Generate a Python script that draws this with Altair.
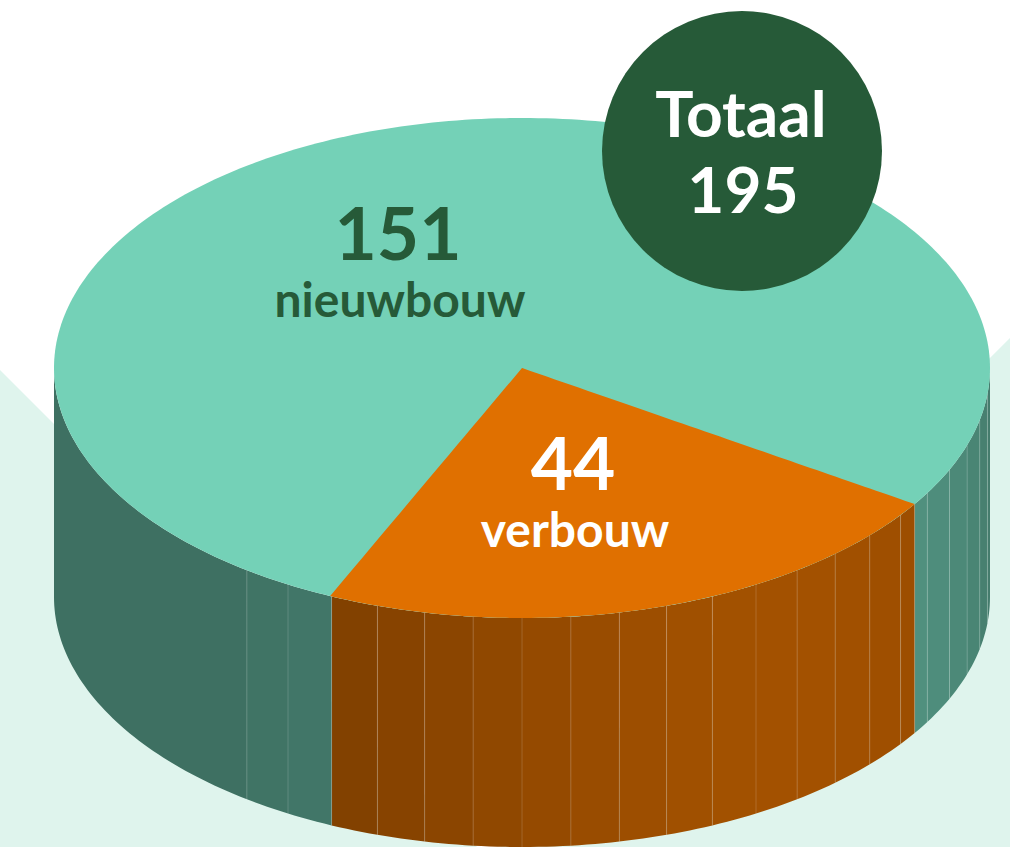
import math
import numpy as np
import pandas as pd
import altair as alt

# ---------------- data ----------------
categories = ["nieuwbouw", "verbouw"]
values = [151, 44]
top_colors = ["#74D1B7", "#E07000"]
label_colors = ["#265A38", "#FFFFFF"]
total_word = "Totaal"

# ---------------- layout (pixels) ----------------
W, H = 1010, 847
CX, CY, RX, RY, DEPTH = 522.0, 368.0, 468.0, 250.0, 229.0
START = 114.2          # screen angle (deg, clockwise) where the first slice starts
STRIP = 6.0            # width (deg) of shading strips on the side
BG_MINT = "#DFF4ED"
CIRCLE_COLOR = "#265A38"
CIRCLE_R = 140
FONT = "Lato"

total = sum(values)
slices = []
a = START
for v in values:
    span = 360.0 * v / total
    slices.append((a, a + span))
    a += span


def slice_of(theta):
    t = theta
    while t < START:
        t += 360
    while t >= START + 360:
        t -= 360
    for i, (s0, s1) in enumerate(slices):
        if s0 <= t < s1:
            return i
    return len(slices) - 1


def ex(t):
    return CX + RX * math.cos(math.radians(t))


def ey(t):
    return CY + RY * math.sin(math.radians(t))


def shade(hex_color, theta):
    c = max(0.0, math.cos(math.radians(theta - 55)))
    b = 0.54 + 0.19 * c ** 2.5
    r, g, bl = (int(hex_color[i:i + 2], 16) for i in (1, 3, 5))
    return "#%02x%02x%02x" % (int(r * b), int(g * b), int(bl * b))


# ---- side strips (front half: 0..180 deg) ----
edges = set()
for s0, s1 in slices:
    for e in (s0 % 360, s1 % 360):
        if 0 < e < 180:
            edges.add(round(e, 4))
grid = [g for g in np.arange(0, 126 + 1e-9, STRIP)]
bounds = sorted(set([0.0, 180.0] + [float(g) for g in grid] + list(edges)))
bounds = [b for i, b in enumerate(bounds) if i == 0 or b - bounds[i - 1] > 0.3]

side_rows = []
seam_rows = []
for k in range(len(bounds) - 1):
    t0, t1 = bounds[k], bounds[k + 1]
    mid = (t0 + t1) / 2
    si = slice_of(mid)
    col = shade(top_colors[si], mid)
    n = max(2, int(math.ceil(t1 - t0)) + 1)
    for t in np.linspace(t0, t1, n):
        side_rows.append({"strip": k, "x": ex(t), "y": ey(t), "y2": ey(t) + DEPTH, "fill": col})
    if 0 < t0 < 180:
        seam_rows.append({"x": ex(t0), "y": ey(t0), "y2": ey(t0) + DEPTH})
side_df = pd.DataFrame(side_rows)
seam_df = pd.DataFrame(seam_rows)

# ---- top face: full ellipse in the first slice colour ----
ts = np.arange(0, 180.5, 1.0)
top_df = pd.DataFrame({
    "x": [ex(t) for t in ts],
    "y": [CY - RY * math.sin(math.radians(t)) for t in ts],
    "y2": [CY + RY * math.sin(math.radians(t)) for t in ts],
})

# ---- top face: wedge of the second slice ----
w0, w1 = slices[1][0] % 360, slices[1][1] % 360
if w1 < w0:
    w1 += 360
wt = sorted(set(list(np.arange(w0, w1, 1.0)) + [w1, 90.0]))
wt = [t for t in wt if w0 <= t <= w1]
wedge_rows = []
for t in wt:
    x = ex(t)
    if x >= CX:
        yl = CY + (x - CX) / (ex(w0) - CX) * (ey(w0) - CY)
    else:
        yl = CY + (x - CX) / (ex(w1) - CX) * (ey(w1) - CY)
    wedge_rows.append({"x": x, "y": yl, "y2": ey(t)})
wedge_df = pd.DataFrame(wedge_rows)

# ---- mint background shape ----
bg_df = pd.DataFrame({"x": [0, 477, 500, W], "y": [370, H, H, 338], "y2": [H, H, H, H]})

# ---- labels ----
label_pos = [(398, 260, 317), (573, 490, 547)]
text_rows = []
for i, cat in enumerate(categories):
    lx, ly1, ly2 = label_pos[i]
    text_rows.append({"t": str(values[i]), "x": lx, "y": ly1, "size": 73, "color": label_colors[i]})
    text_rows.append({"t": cat, "x": lx + 2, "y": ly2, "size": 48, "color": label_colors[i]})
text_rows.append({"t": total_word, "x": 741, "y": 137, "size": 64, "color": "#FFFFFF"})
text_rows.append({"t": str(total), "x": 743, "y": 213, "size": 64, "color": "#FFFFFF"})
text_df = pd.DataFrame(text_rows)

circle_df = pd.DataFrame({"x": [742], "y": [151]})

# ---------------- chart ----------------
xs = alt.Scale(domain=[0, W], nice=False, zero=False)
ys = alt.Scale(domain=[0, H], nice=False, zero=False, reverse=True)
X = lambda f="x": alt.X(f"{f}:Q", scale=xs, axis=None)
Y = lambda f="y": alt.Y(f"{f}:Q", scale=ys, axis=None)

bg = alt.Chart(bg_df).mark_area(color=BG_MINT, orient="vertical", clip=True).encode(
    x=X(), y=Y(), y2="y2:Q")

sides = alt.Chart(side_df).mark_area(orient="vertical", strokeWidth=0).encode(
    x=X(), y=Y(), y2="y2:Q", detail="strip:N",
    fill=alt.Fill("fill:N", scale=None))

seams = alt.Chart(seam_df).mark_rule(color="#FFFFFF", opacity=0.16, strokeWidth=1).encode(
    x=X(), y=Y(), y2="y2:Q")

top = alt.Chart(top_df).mark_area(orient="vertical", color=top_colors[0]).encode(
    x=X(), y=Y(), y2="y2:Q")

wedge = alt.Chart(wedge_df).mark_area(orient="vertical", color=top_colors[1]).encode(
    x=X(), y=Y(), y2="y2:Q")

# Vega symbol size is the area of the bounding square: (2r)^2
circle = alt.Chart(circle_df).mark_circle(
    size=(2 * CIRCLE_R) ** 2, color=CIRCLE_COLOR, opacity=1).encode(x=X(), y=Y())

texts = alt.Chart(text_df).mark_text(
    font=FONT, fontWeight="bold", align="center", baseline="alphabetic").encode(
    x=X(), y=Y(), text="t:N",
    size=alt.Size("size:Q", scale=None),
    color=alt.Color("color:N", scale=None))

chart = alt.layer(bg, sides, seams, top, wedge, circle, texts).properties(
    width=W, height=H, autosize=alt.AutoSizeParams(type="none"), padding=0,
    background="#FFFFFF",
).configure_view(stroke=None)

chart.save("out.html", embed_options={"renderer": "svg", "actions": False})
